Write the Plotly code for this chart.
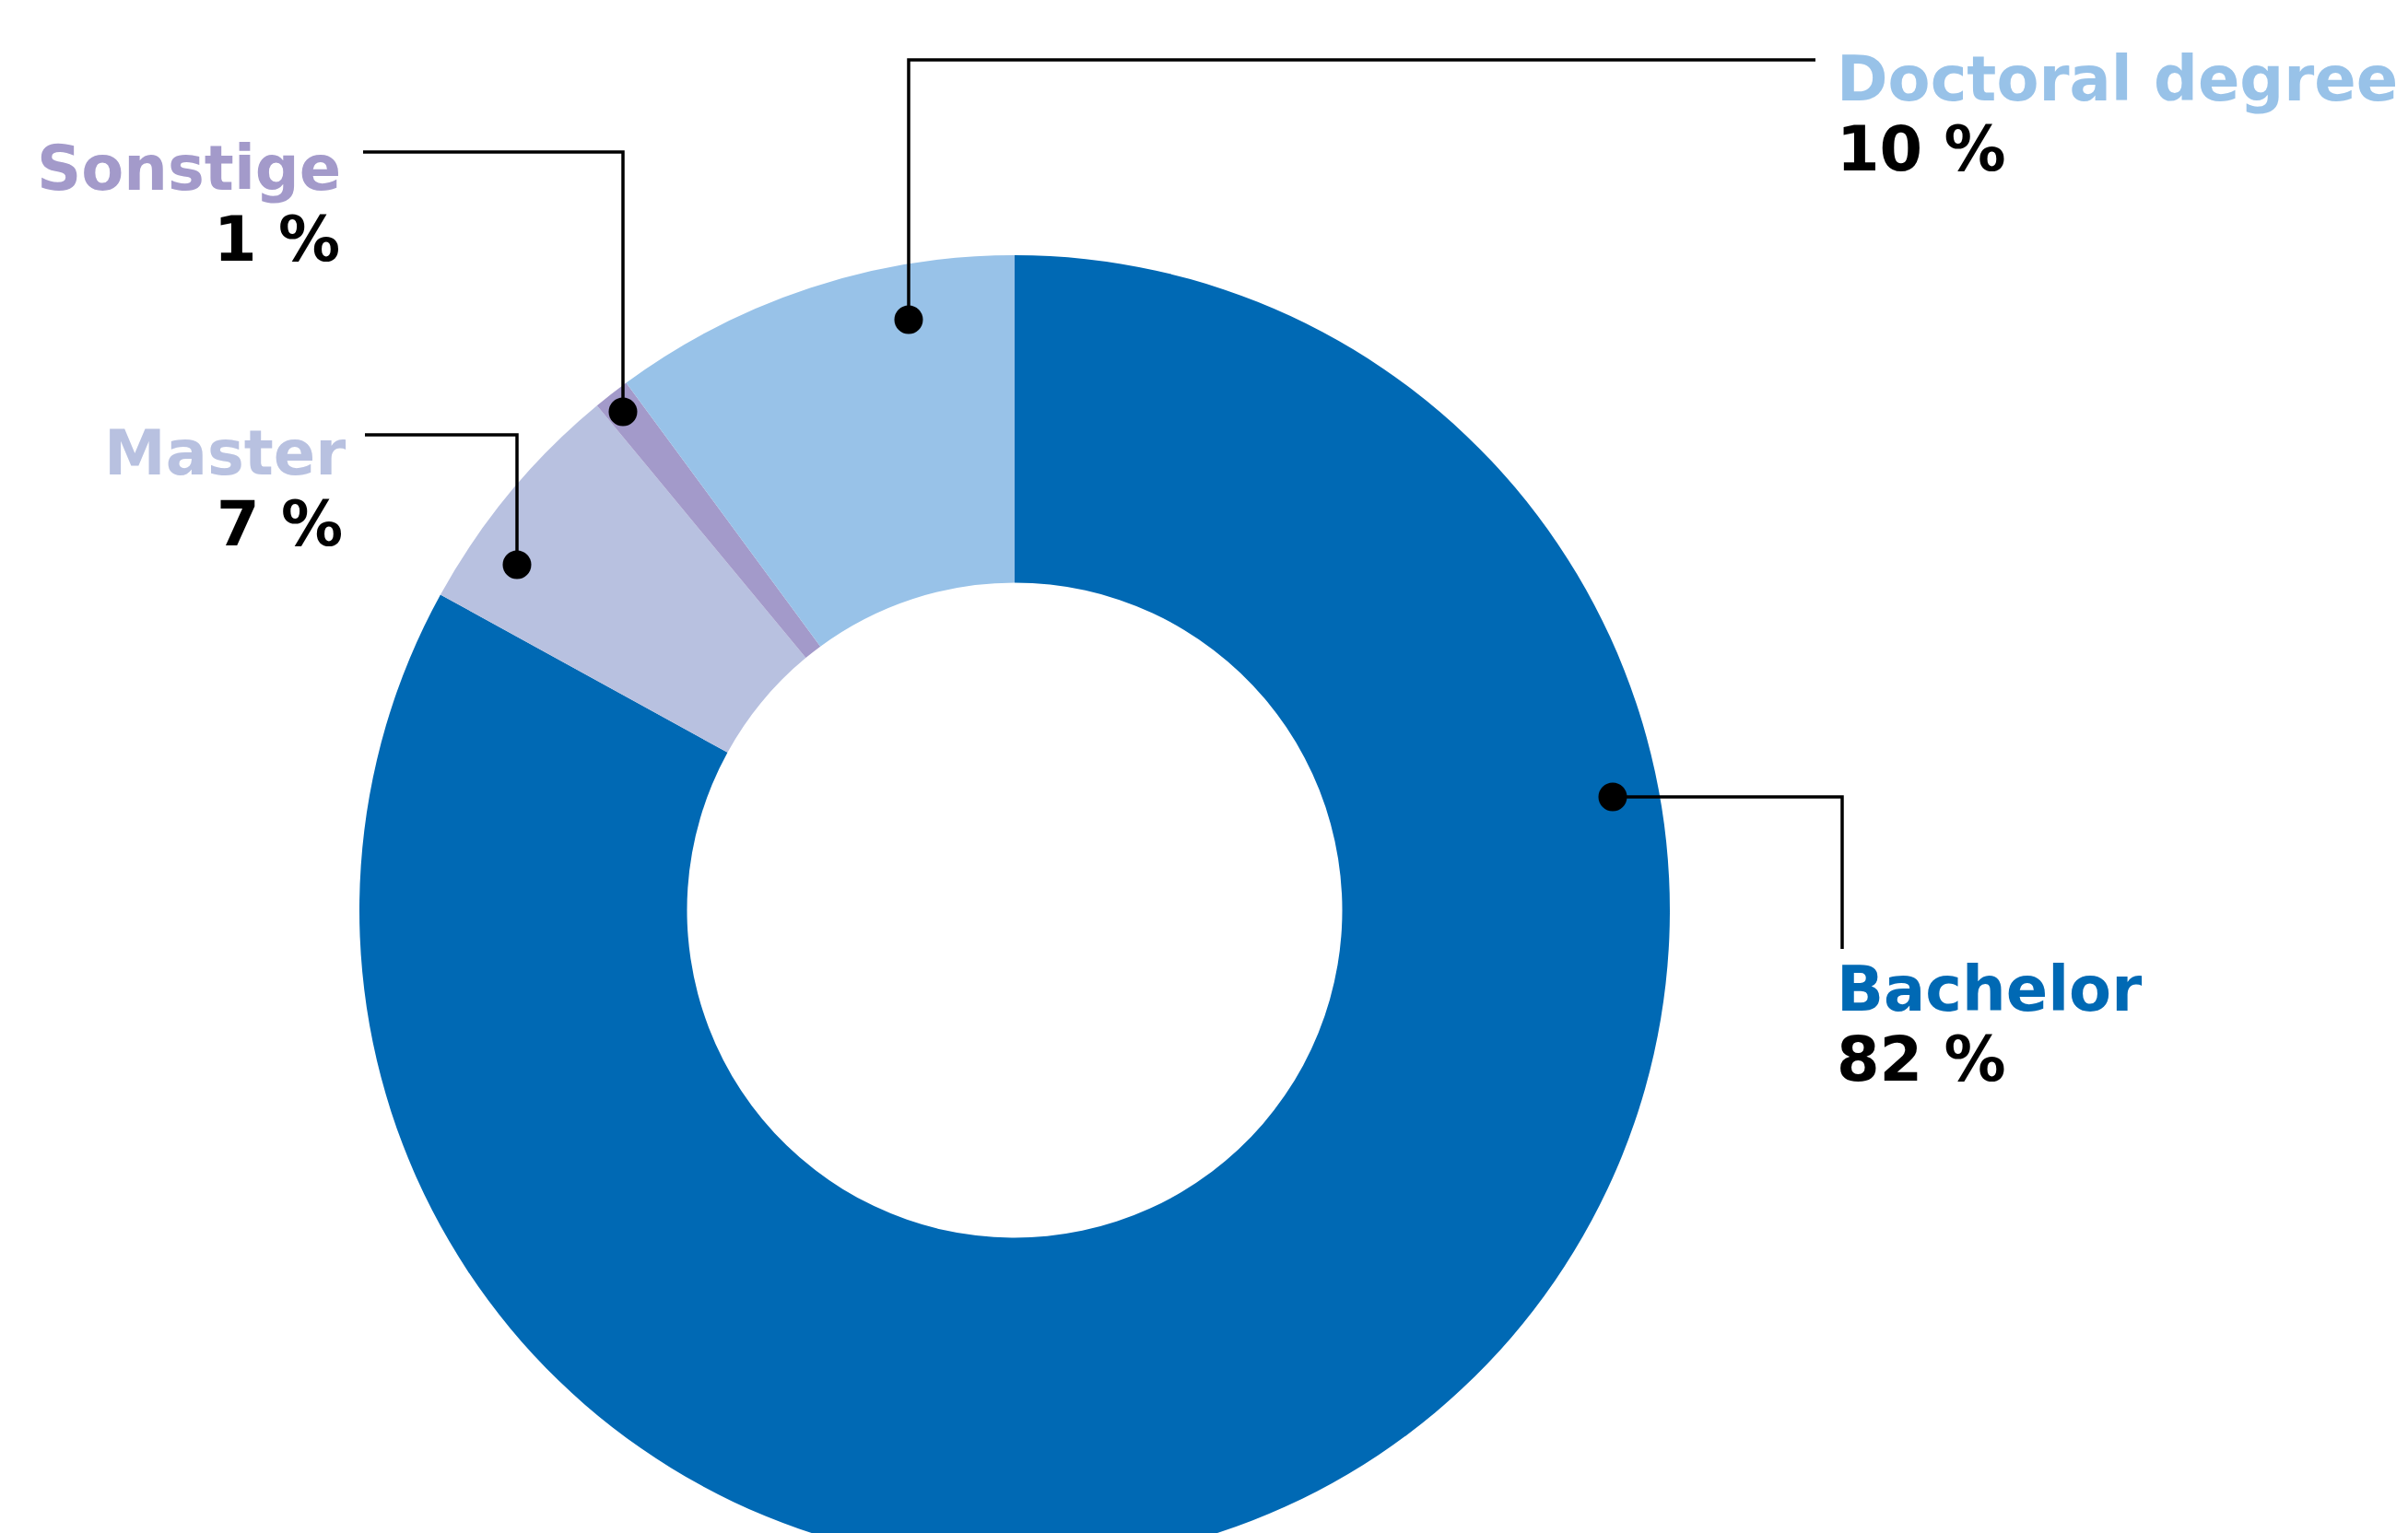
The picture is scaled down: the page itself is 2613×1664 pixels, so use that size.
import plotly.graph_objects as go

# ---- data ----
categories = ["Bachelor", "Master", "Sonstige", "Doctoral degree"]
shares = [83.0, 6.0, 0.9, 10.1]          # slice sizes
pct_labels = ["82 %", "7 %", "1 %", "10 %"]
colors = ["#0069B4", "#B8C1E0", "#A39ACA", "#98C2E8"]

W, H = 2613, 1710
CX, CY, R = 1101, 988, 711


def px(x):
    return x / W


def py(y):
    return 1 - y / H


fig = go.Figure()
fig.add_trace(go.Pie(
    labels=categories, values=shares, sort=False, direction="clockwise",
    rotation=0, hole=0.5, textinfo="none", hoverinfo="label+percent",
    marker=dict(colors=colors, line=dict(width=0)),
    domain=dict(x=[px(CX - R), px(CX + R)], y=[py(CY + R), py(CY - R)]),
    showlegend=False,
))

# leader lines (pixel geometry) : list of points, dot at last point
leaders = {
    "Doctoral degree": [(1970, 65), (986, 65), (986, 347)],
    "Sonstige": [(394, 165), (676, 165), (676, 447)],
    "Master": [(396, 472), (561, 472), (561, 613)],
    "Bachelor": [(1999, 1030), (1999, 865), (1750, 865)],
}
shapes = []
LW = 3.5
DR = 15.5
for name, pts in leaders.items():
    path = "M " + " L ".join(f"{px(x)},{py(y)}" for x, y in pts)
    shapes.append(dict(type="path", xref="paper", yref="paper", path=path,
                       line=dict(color="black", width=LW), layer="above"))
    dx, dy = pts[-1]
    shapes.append(dict(type="circle", xref="paper", yref="paper",
                       x0=px(dx - DR), x1=px(dx + DR), y0=py(dy + DR), y1=py(dy - DR),
                       fillcolor="black", line=dict(width=0), layer="above"))

# label anchors: (x, cap-top y of name line, x anchor)
label_pos = {
    "Doctoral degree": (1991, 61, "left"),
    "Sonstige": (372, 159, "right"),
    "Master": (377, 468, "right"),
    "Bachelor": (1991, 1049, "left"),
}
pct_dx = {"Doctoral degree": 0, "Sonstige": -1, "Master": -3, "Bachelor": 0}
FS = 67
CAP = 49
LINE = 76
annotations = []
for name, col, pct in zip(categories, colors, pct_labels):
    x, ytop, anchor = label_pos[name]
    ymid = ytop + CAP / 2
    annotations.append(dict(
        text=name, xref="paper", yref="paper", x=px(x), y=py(ymid),
        xanchor=anchor, yanchor="middle", showarrow=False,
        font=dict(family="DejaVu Sans", size=FS, color=col, weight=700),
    ))
    annotations.append(dict(
        text=pct, xref="paper", yref="paper", x=px(x + pct_dx[name]), y=py(ymid + LINE),
        xanchor=anchor, yanchor="middle", showarrow=False,
        font=dict(family="DejaVu Sans", size=FS, color="black", weight=700),
    ))

fig.update_layout(
    width=W, height=H, margin=dict(l=0, r=0, t=0, b=0),
    paper_bgcolor="white", plot_bgcolor="white",
    shapes=shapes, annotations=annotations, showlegend=False,
)

fig.write_html(
    "out.html",
    config={"displayModeBar": False},
    post_script="document.body.style.margin='0';document.body.style.overflow='hidden';"
                "document.documentElement.style.overflow='hidden';",
)
